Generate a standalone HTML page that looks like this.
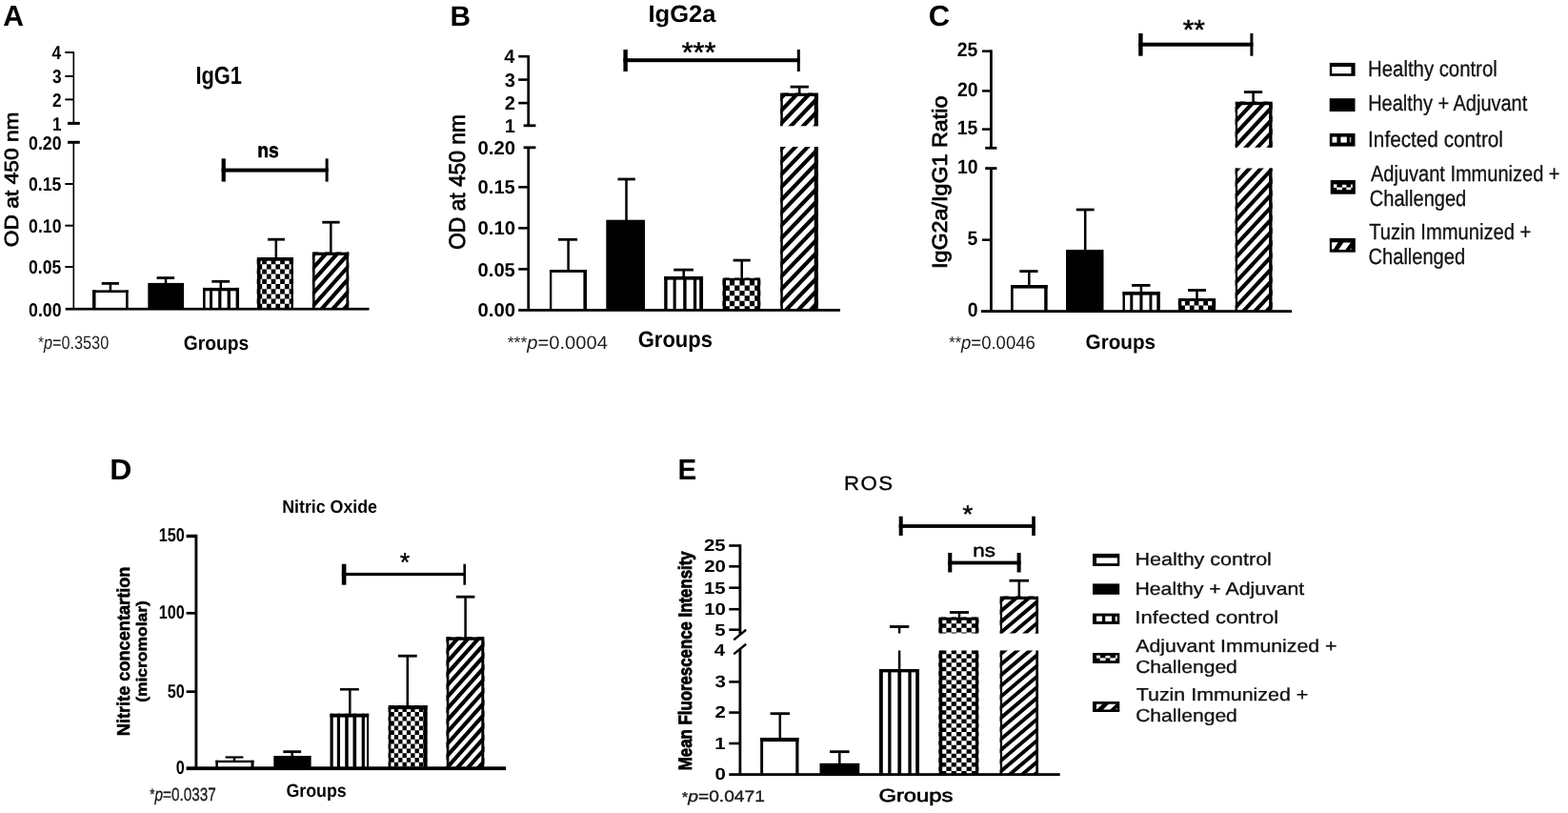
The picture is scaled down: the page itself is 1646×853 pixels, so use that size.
<!DOCTYPE html>
<html lang="en">
<head>
<meta charset="utf-8">
<title>Figure: antibody, nitric oxide and ROS responses</title>
<style>
html,body{margin:0;padding:0;background:#fff;}
body{width:1646px;height:853px;overflow:hidden;}
svg{display:block;}
svg text{font-family:"Liberation Sans",sans-serif;font-weight:bold;}
svg text.r{font-weight:normal;}
</style>
</head>
<body>
<svg width="1646" height="853" viewBox="0 0 1646 853" text-rendering="geometricPrecision">
<rect width="1646" height="853" fill="#fff"/>
<text transform="translate(3.35 26.7) scale(0.9918 1)" font-size="30.4">A</text>
<rect x="76.5" y="54.2" width="1.6" height="75.2"/>
<rect x="68.3" y="54" width="9" height="2"/>
<rect x="68.3" y="79" width="9" height="2"/>
<rect x="68.3" y="103.4" width="9" height="2"/>
<rect x="71" y="127.9" width="12.8" height="3"/>
<rect x="71" y="147.8" width="12.8" height="3"/>
<rect x="76.5" y="149.4" width="1.6" height="174.6"/>
<rect x="68.3" y="192" width="9" height="2"/>
<rect x="68.3" y="235.7" width="9" height="2"/>
<rect x="68.3" y="279" width="9" height="2"/>
<rect x="68.7" y="322.85" width="318.8" height="2.7"/>
<text transform="translate(54.54 62.3) scale(0.8600 1)" font-size="20">4</text>
<text transform="translate(55.06 87.3) scale(0.8600 1)" font-size="20">3</text>
<text transform="translate(55.1 111.7) scale(0.8600 1)" font-size="20">2</text>
<text transform="translate(54.93 136.7) scale(0.8600 1)" font-size="20">1</text>
<text transform="translate(30.09 156.9) scale(0.8847 1)" font-size="20">0.20</text>
<text transform="translate(30.1 200.3) scale(0.8788 1)" font-size="20">0.15</text>
<text transform="translate(30.09 244) scale(0.8847 1)" font-size="20">0.10</text>
<text transform="translate(30.1 287.3) scale(0.8788 1)" font-size="20">0.05</text>
<text transform="translate(30.09 331.6) scale(0.8847 1)" font-size="20">0.00</text>
<text transform="translate(205.42 88.1) scale(0.8342 1)" font-size="26.2">IgG1</text>
<text transform="translate(270.35 165) scale(0.8910 1)" font-size="21.6" stroke="#000" stroke-width="0.6">ns</text>
<rect x="232.6" y="176.6" width="112" height="4"/>
<rect x="232.6" y="166.4" width="4.2" height="24.2"/>
<rect x="341.6" y="166.4" width="3" height="24.2"/>
<clipPath id="c1"><rect x="96.9" y="304.2" width="37.9" height="20"/></clipPath>
<g clip-path="url(#c1)">
<rect x="96.9" y="304.2" width="3.6" height="20"/>
<rect x="132" y="304.2" width="2.8" height="20"/>
<rect x="96.9" y="304.2" width="37.9" height="2.8"/>
</g>
<rect x="155.3" y="296.9" width="37.7" height="27.3"/>
<clipPath id="c2"><rect x="212.9" y="301.7" width="38.2" height="22.5"/></clipPath>
<g clip-path="url(#c2)">
<rect x="220" y="301.7" width="3" height="22.5"/>
<rect x="229.2" y="301.7" width="3.2" height="22.5"/>
<rect x="238.6" y="301.7" width="3.3" height="22.5"/>
<rect x="212.9" y="301.7" width="2.7" height="22.5"/>
<rect x="247.6" y="301.7" width="3.5" height="22.5"/>
<rect x="212.9" y="301.7" width="38.2" height="3.6"/>
</g>
<clipPath id="c3"><rect x="269.7" y="269.9" width="38.2" height="54.3"/></clipPath>
<g clip-path="url(#c3)">
<path d="M265.68 261.6h4.74v5.2h-4.74zM275.16 261.6h4.74v5.2h-4.74zM284.64 261.6h4.74v5.2h-4.74zM294.12 261.6h4.74v5.2h-4.74zM303.6 261.6h4.74v5.2h-4.74zM260.94 266.8h4.74v5.2h-4.74zM270.42 266.8h4.74v5.2h-4.74zM279.9 266.8h4.74v5.2h-4.74zM289.38 266.8h4.74v5.2h-4.74zM298.86 266.8h4.74v5.2h-4.74zM308.34 266.8h4.74v5.2h-4.74zM265.68 272h4.74v5.2h-4.74zM275.16 272h4.74v5.2h-4.74zM284.64 272h4.74v5.2h-4.74zM294.12 272h4.74v5.2h-4.74zM303.6 272h4.74v5.2h-4.74zM260.94 277.2h4.74v5.2h-4.74zM270.42 277.2h4.74v5.2h-4.74zM279.9 277.2h4.74v5.2h-4.74zM289.38 277.2h4.74v5.2h-4.74zM298.86 277.2h4.74v5.2h-4.74zM308.34 277.2h4.74v5.2h-4.74zM265.68 282.4h4.74v5.2h-4.74zM275.16 282.4h4.74v5.2h-4.74zM284.64 282.4h4.74v5.2h-4.74zM294.12 282.4h4.74v5.2h-4.74zM303.6 282.4h4.74v5.2h-4.74zM260.94 287.6h4.74v5.2h-4.74zM270.42 287.6h4.74v5.2h-4.74zM279.9 287.6h4.74v5.2h-4.74zM289.38 287.6h4.74v5.2h-4.74zM298.86 287.6h4.74v5.2h-4.74zM308.34 287.6h4.74v5.2h-4.74zM265.68 292.8h4.74v5.2h-4.74zM275.16 292.8h4.74v5.2h-4.74zM284.64 292.8h4.74v5.2h-4.74zM294.12 292.8h4.74v5.2h-4.74zM303.6 292.8h4.74v5.2h-4.74zM260.94 298h4.74v5.2h-4.74zM270.42 298h4.74v5.2h-4.74zM279.9 298h4.74v5.2h-4.74zM289.38 298h4.74v5.2h-4.74zM298.86 298h4.74v5.2h-4.74zM308.34 298h4.74v5.2h-4.74zM265.68 303.2h4.74v5.2h-4.74zM275.16 303.2h4.74v5.2h-4.74zM284.64 303.2h4.74v5.2h-4.74zM294.12 303.2h4.74v5.2h-4.74zM303.6 303.2h4.74v5.2h-4.74zM260.94 308.4h4.74v5.2h-4.74zM270.42 308.4h4.74v5.2h-4.74zM279.9 308.4h4.74v5.2h-4.74zM289.38 308.4h4.74v5.2h-4.74zM298.86 308.4h4.74v5.2h-4.74zM308.34 308.4h4.74v5.2h-4.74zM265.68 313.6h4.74v5.2h-4.74zM275.16 313.6h4.74v5.2h-4.74zM284.64 313.6h4.74v5.2h-4.74zM294.12 313.6h4.74v5.2h-4.74zM303.6 313.6h4.74v5.2h-4.74zM260.94 318.8h4.74v5.2h-4.74zM270.42 318.8h4.74v5.2h-4.74zM279.9 318.8h4.74v5.2h-4.74zM289.38 318.8h4.74v5.2h-4.74zM298.86 318.8h4.74v5.2h-4.74zM308.34 318.8h4.74v5.2h-4.74zM265.68 324h4.74v5.2h-4.74zM275.16 324h4.74v5.2h-4.74zM284.64 324h4.74v5.2h-4.74zM294.12 324h4.74v5.2h-4.74zM303.6 324h4.74v5.2h-4.74zM260.94 329.2h4.74v5.2h-4.74zM270.42 329.2h4.74v5.2h-4.74zM279.9 329.2h4.74v5.2h-4.74zM289.38 329.2h4.74v5.2h-4.74zM298.86 329.2h4.74v5.2h-4.74zM308.34 329.2h4.74v5.2h-4.74z"/>
<rect x="269.7" y="269.9" width="3.8" height="54.3"/>
<rect x="305.5" y="269.9" width="2.4" height="54.3"/>
<rect x="269.7" y="269.9" width="38.2" height="3.8"/>
</g>
<clipPath id="c4"><rect x="327.8" y="264.4" width="38.5" height="59.8"/></clipPath>
<g clip-path="url(#c4)">
<path d="M323.8 247.18L370.3 195.1M323.8 260.38L370.3 208.3M323.8 273.58L370.3 221.5M323.8 286.78L370.3 234.7M323.8 299.98L370.3 247.9M323.8 313.18L370.3 261.1M323.8 326.38L370.3 274.3M323.8 339.58L370.3 287.5M323.8 352.78L370.3 300.7M323.8 365.98L370.3 313.9M323.8 379.18L370.3 327.1M323.8 392.38L370.3 340.3" fill="none" stroke="#000" stroke-width="4.13"/>
<rect x="327.8" y="264.4" width="2.8" height="59.8"/>
<rect x="363.4" y="264.4" width="2.9" height="59.8"/>
<rect x="327.8" y="264.4" width="38.5" height="3.5"/>
</g>
<rect x="114.65" y="297.4" width="2.5" height="7.6"/>
<rect x="106.7" y="296" width="18.2" height="2.8"/>
<rect x="172.75" y="291.6" width="2.5" height="6.4"/>
<rect x="164.6" y="290.2" width="18.5" height="2.8"/>
<rect x="230.55" y="295.3" width="2.5" height="7.7"/>
<rect x="222.3" y="293.9" width="18.8" height="2.8"/>
<rect x="288.55" y="251.2" width="2.5" height="19.8"/>
<rect x="281" y="249.8" width="17.9" height="2.8"/>
<rect x="346.05" y="233.2" width="2.5" height="32.8"/>
<rect x="338.3" y="231.8" width="18.3" height="2.8"/>
<text transform="translate(40.36 366) scale(0.8385 1)" font-size="19.4" class="r" fill="#1c1c1c"><tspan font-size="17.07" dy="-0.58">*</tspan><tspan font-style="italic" dy="0.58">p</tspan>=0.3530</text>
<text transform="translate(192.83 366.8) scale(0.9154 1)" font-size="21">Groups</text>
<text transform="translate(18.6 259.18) rotate(-90) scale(1.1163 1)" font-size="20.4" class="r" stroke="#000" stroke-width="0.7">OD at 450 nm</text>
<text transform="translate(472.59 26.5) scale(1.0080 1)" font-size="29.6">B</text>
<text transform="translate(680.48 23.2) scale(1.0215 1)" font-size="25">IgG2a</text>
<rect x="553.35" y="58" width="2.7" height="73.8"/>
<rect x="544.2" y="57.9" width="10.5" height="2.6"/>
<rect x="544.2" y="82.3" width="10.5" height="2.6"/>
<rect x="544.2" y="106.8" width="10.5" height="2.6"/>
<rect x="549.6" y="130.4" width="12.8" height="2.8"/>
<rect x="549.6" y="153.4" width="12.8" height="2.8"/>
<rect x="553.35" y="154.8" width="2.7" height="170.2"/>
<rect x="544.2" y="195" width="10.5" height="2.6"/>
<rect x="544.2" y="238" width="10.5" height="2.6"/>
<rect x="544.2" y="281.1" width="10.5" height="2.6"/>
<rect x="544.2" y="324" width="337.8" height="2.8"/>
<text transform="translate(529.2 66.3) scale(1.0000 1)" font-size="20">4</text>
<text transform="translate(529.8 90.7) scale(1.0000 1)" font-size="20">3</text>
<text transform="translate(529.85 115.2) scale(1.0000 1)" font-size="20">2</text>
<text transform="translate(529.65 138.9) scale(1.0000 1)" font-size="20">1</text>
<text transform="translate(501.59 161.9) scale(1.0134 1)" font-size="20">0.20</text>
<text transform="translate(501.59 203.4) scale(1.0067 1)" font-size="20">0.15</text>
<text transform="translate(501.59 246.4) scale(1.0134 1)" font-size="20">0.10</text>
<text transform="translate(501.59 289.5) scale(1.0067 1)" font-size="20">0.05</text>
<text transform="translate(501.59 332.1) scale(1.0134 1)" font-size="20">0.00</text>
<rect x="654.4" y="61.2" width="185.4" height="4"/>
<rect x="654.4" y="52" width="4.4" height="23"/>
<rect x="836.8" y="52" width="3" height="23"/>
<text transform="translate(715.66 65.03) scale(1.0341 1)" font-size="29.71" class="r" stroke="#000" stroke-width="0.5">***</text>
<clipPath id="c5"><rect x="576.8" y="283" width="39.2" height="42.4"/></clipPath>
<g clip-path="url(#c5)">
<rect x="576.8" y="283" width="2.5" height="42.4"/>
<rect x="612.4" y="283" width="3.6" height="42.4"/>
<rect x="576.8" y="283" width="39.2" height="2.9"/>
</g>
<rect x="636.3" y="230.7" width="40.7" height="94.7"/>
<clipPath id="c6"><rect x="697.1" y="289.8" width="41.1" height="35.6"/></clipPath>
<g clip-path="url(#c6)">
<rect x="706.6" y="289.8" width="3.1" height="35.6"/>
<rect x="717.2" y="289.8" width="3.4" height="35.6"/>
<rect x="727.9" y="289.8" width="3.3" height="35.6"/>
<rect x="697.1" y="289.8" width="3.5" height="35.6"/>
<rect x="734.2" y="289.8" width="4" height="35.6"/>
<rect x="697.1" y="289.8" width="41.1" height="3.8"/>
</g>
<clipPath id="c7"><rect x="758.5" y="291.6" width="39.8" height="33.8"/></clipPath>
<g clip-path="url(#c7)">
<path d="M755.4 283.1h5.25v5.45h-5.25zM765.9 283.1h5.25v5.45h-5.25zM776.4 283.1h5.25v5.45h-5.25zM786.9 283.1h5.25v5.45h-5.25zM797.4 283.1h5.25v5.45h-5.25zM750.15 288.55h5.25v5.45h-5.25zM760.65 288.55h5.25v5.45h-5.25zM771.15 288.55h5.25v5.45h-5.25zM781.65 288.55h5.25v5.45h-5.25zM792.15 288.55h5.25v5.45h-5.25zM802.65 288.55h5.25v5.45h-5.25zM755.4 294h5.25v5.45h-5.25zM765.9 294h5.25v5.45h-5.25zM776.4 294h5.25v5.45h-5.25zM786.9 294h5.25v5.45h-5.25zM797.4 294h5.25v5.45h-5.25zM750.15 299.45h5.25v5.45h-5.25zM760.65 299.45h5.25v5.45h-5.25zM771.15 299.45h5.25v5.45h-5.25zM781.65 299.45h5.25v5.45h-5.25zM792.15 299.45h5.25v5.45h-5.25zM802.65 299.45h5.25v5.45h-5.25zM755.4 304.9h5.25v5.45h-5.25zM765.9 304.9h5.25v5.45h-5.25zM776.4 304.9h5.25v5.45h-5.25zM786.9 304.9h5.25v5.45h-5.25zM797.4 304.9h5.25v5.45h-5.25zM750.15 310.35h5.25v5.45h-5.25zM760.65 310.35h5.25v5.45h-5.25zM771.15 310.35h5.25v5.45h-5.25zM781.65 310.35h5.25v5.45h-5.25zM792.15 310.35h5.25v5.45h-5.25zM802.65 310.35h5.25v5.45h-5.25zM755.4 315.8h5.25v5.45h-5.25zM765.9 315.8h5.25v5.45h-5.25zM776.4 315.8h5.25v5.45h-5.25zM786.9 315.8h5.25v5.45h-5.25zM797.4 315.8h5.25v5.45h-5.25zM750.15 321.25h5.25v5.45h-5.25zM760.65 321.25h5.25v5.45h-5.25zM771.15 321.25h5.25v5.45h-5.25zM781.65 321.25h5.25v5.45h-5.25zM792.15 321.25h5.25v5.45h-5.25zM802.65 321.25h5.25v5.45h-5.25zM755.4 326.7h5.25v5.45h-5.25zM765.9 326.7h5.25v5.45h-5.25zM776.4 326.7h5.25v5.45h-5.25zM786.9 326.7h5.25v5.45h-5.25zM797.4 326.7h5.25v5.45h-5.25z"/>
<rect x="758.5" y="291.6" width="3.5" height="33.8"/>
<rect x="795" y="291.6" width="3.3" height="33.8"/>
<rect x="758.5" y="291.6" width="39.8" height="2.6"/>
</g>
<clipPath id="c8"><rect x="819.2" y="97.4" width="39.7" height="34.9"/><rect x="819.2" y="154" width="39.7" height="171.4"/></clipPath>
<g clip-path="url(#c8)">
<path d="M815.2 80.89L862.9 31.28M815.2 94.29L862.9 44.68M815.2 107.69L862.9 58.08M815.2 121.09L862.9 71.48M815.2 134.49L862.9 84.88M815.2 147.89L862.9 98.28M815.2 161.29L862.9 111.68M815.2 174.69L862.9 125.08M815.2 188.09L862.9 138.48M815.2 201.49L862.9 151.88M815.2 214.89L862.9 165.28M815.2 228.29L862.9 178.68M815.2 241.69L862.9 192.08M815.2 255.09L862.9 205.48M815.2 268.49L862.9 218.88M815.2 281.89L862.9 232.28M815.2 295.29L862.9 245.68M815.2 308.69L862.9 259.08M815.2 322.09L862.9 272.48M815.2 335.49L862.9 285.88M815.2 348.89L862.9 299.28M815.2 362.29L862.9 312.68M815.2 375.69L862.9 326.08M815.2 389.09L862.9 339.48" fill="none" stroke="#000" stroke-width="4.16"/>
<rect x="819.2" y="97.4" width="2.6" height="228"/>
<rect x="854.7" y="97.4" width="4.2" height="228"/>
<rect x="819.2" y="97.4" width="39.7" height="3.6"/>
</g>
<rect x="595.35" y="251.3" width="2.5" height="32.7"/>
<rect x="586" y="249.9" width="20.1" height="2.8"/>
<rect x="656.25" y="188" width="2.5" height="44"/>
<rect x="648.5" y="186.6" width="18.3" height="2.8"/>
<rect x="716.45" y="283.1" width="2.5" height="7.9"/>
<rect x="707.2" y="281.7" width="20.7" height="2.8"/>
<rect x="777.45" y="273.1" width="2.5" height="19.9"/>
<rect x="769.6" y="271.7" width="18.1" height="2.8"/>
<rect x="837.95" y="91.1" width="2.5" height="6.9"/>
<rect x="829.6" y="89.7" width="19.3" height="2.8"/>
<text transform="translate(532.7 366) scale(1.0374 1)" font-size="19.4" class="r" fill="#1c1c1c"><tspan font-size="17.07" dy="-0.58">***</tspan><tspan font-style="italic" dy="0.58">p</tspan>=0.0004</text>
<text transform="translate(669.72 363.8) scale(0.9328 1)" font-size="23.6">Groups</text>
<text transform="translate(488 262.08) rotate(-90) scale(0.9596 1)" font-size="23.8" class="r" stroke="#000" stroke-width="0.7">OD at 450 nm</text>
<text transform="translate(974.86 26.7) scale(1.0195 1)" font-size="30.4">C</text>
<rect x="1039" y="52.4" width="2.8" height="102.9"/>
<rect x="1031" y="52.45" width="9.4" height="2.5"/>
<rect x="1031" y="94.15" width="9.4" height="2.5"/>
<rect x="1031" y="134.35" width="9.4" height="2.5"/>
<rect x="1034.2" y="153.9" width="12.2" height="2.8"/>
<rect x="1034.2" y="175.2" width="12.2" height="2.8"/>
<rect x="1039" y="176.6" width="2.8" height="149.9"/>
<rect x="1031" y="250.45" width="9.4" height="2.5"/>
<rect x="1030" y="325.2" width="326" height="2.8"/>
<text transform="translate(1004.76 59.2) scale(0.9300 1)" font-size="20.9">25</text>
<text transform="translate(1005 100.9) scale(0.9300 1)" font-size="20.9">20</text>
<text transform="translate(1004.76 141.1) scale(0.9300 1)" font-size="20.9">15</text>
<text transform="translate(1005 182.1) scale(0.9300 1)" font-size="20.9">10</text>
<text transform="translate(1015.55 257.2) scale(0.9300 1)" font-size="20.9">5</text>
<text transform="translate(1015.79 332) scale(0.9300 1)" font-size="20.9">0</text>
<rect x="1195.2" y="44.7" width="120.2" height="4"/>
<rect x="1195.2" y="35" width="4.4" height="23.7"/>
<rect x="1312.4" y="35" width="3" height="23.7"/>
<text transform="translate(1241.68 40.84) scale(1.0225 1)" font-size="29.14" class="r" stroke="#000" stroke-width="0.5">**</text>
<clipPath id="c9"><rect x="1061" y="299" width="38.8" height="27.6"/></clipPath>
<g clip-path="url(#c9)">
<rect x="1061" y="299" width="2.7" height="27.6"/>
<rect x="1096.2" y="299" width="3.6" height="27.6"/>
<rect x="1061" y="299" width="38.8" height="3.6"/>
</g>
<rect x="1119" y="262" width="39.5" height="64.6"/>
<clipPath id="c10"><rect x="1178.3" y="305.8" width="39.6" height="20.8"/></clipPath>
<g clip-path="url(#c10)">
<rect x="1186.3" y="305.8" width="3" height="20.8"/>
<rect x="1196.4" y="305.8" width="3.1" height="20.8"/>
<rect x="1206.5" y="305.8" width="2.9" height="20.8"/>
<rect x="1178.3" y="305.8" width="2.6" height="20.8"/>
<rect x="1214.3" y="305.8" width="3.6" height="20.8"/>
<rect x="1178.3" y="305.8" width="39.6" height="3.8"/>
</g>
<clipPath id="c11"><rect x="1236.8" y="313.1" width="39.4" height="13.5"/></clipPath>
<g clip-path="url(#c11)">
<path d="M1234.32 305.9h4.82v4.9h-4.82zM1243.96 305.9h4.82v4.9h-4.82zM1253.6 305.9h4.82v4.9h-4.82zM1263.24 305.9h4.82v4.9h-4.82zM1272.88 305.9h4.82v4.9h-4.82zM1229.5 310.8h4.82v4.9h-4.82zM1239.14 310.8h4.82v4.9h-4.82zM1248.78 310.8h4.82v4.9h-4.82zM1258.42 310.8h4.82v4.9h-4.82zM1268.06 310.8h4.82v4.9h-4.82zM1277.7 310.8h4.82v4.9h-4.82zM1234.32 315.7h4.82v4.9h-4.82zM1243.96 315.7h4.82v4.9h-4.82zM1253.6 315.7h4.82v4.9h-4.82zM1263.24 315.7h4.82v4.9h-4.82zM1272.88 315.7h4.82v4.9h-4.82zM1229.5 320.6h4.82v4.9h-4.82zM1239.14 320.6h4.82v4.9h-4.82zM1248.78 320.6h4.82v4.9h-4.82zM1258.42 320.6h4.82v4.9h-4.82zM1268.06 320.6h4.82v4.9h-4.82zM1277.7 320.6h4.82v4.9h-4.82zM1234.32 325.5h4.82v4.9h-4.82zM1243.96 325.5h4.82v4.9h-4.82zM1253.6 325.5h4.82v4.9h-4.82zM1263.24 325.5h4.82v4.9h-4.82zM1272.88 325.5h4.82v4.9h-4.82zM1229.5 330.4h4.82v4.9h-4.82zM1239.14 330.4h4.82v4.9h-4.82zM1248.78 330.4h4.82v4.9h-4.82zM1258.42 330.4h4.82v4.9h-4.82zM1268.06 330.4h4.82v4.9h-4.82zM1277.7 330.4h4.82v4.9h-4.82z"/>
<rect x="1236.8" y="313.1" width="3.5" height="13.5"/>
<rect x="1272.3" y="313.1" width="3.9" height="13.5"/>
<rect x="1236.8" y="313.1" width="39.4" height="2.8"/>
</g>
<clipPath id="c12"><rect x="1296.6" y="106.6" width="39.1" height="48.2"/><rect x="1296.6" y="176.5" width="39.1" height="150.1"/></clipPath>
<g clip-path="url(#c12)">
<path d="M1292.6 93.02L1339.7 42.62M1292.6 106.02L1339.7 55.62M1292.6 119.02L1339.7 68.62M1292.6 132.02L1339.7 81.62M1292.6 145.02L1339.7 94.62M1292.6 158.02L1339.7 107.62M1292.6 171.02L1339.7 120.62M1292.6 184.02L1339.7 133.62M1292.6 197.02L1339.7 146.62M1292.6 210.02L1339.7 159.62M1292.6 223.02L1339.7 172.62M1292.6 236.02L1339.7 185.62M1292.6 249.02L1339.7 198.62M1292.6 262.02L1339.7 211.62M1292.6 275.02L1339.7 224.62M1292.6 288.02L1339.7 237.62M1292.6 301.02L1339.7 250.62M1292.6 314.02L1339.7 263.62M1292.6 327.02L1339.7 276.62M1292.6 340.02L1339.7 289.62M1292.6 353.02L1339.7 302.62M1292.6 366.02L1339.7 315.62M1292.6 379.02L1339.7 328.62M1292.6 392.02L1339.7 341.62" fill="none" stroke="#000" stroke-width="4.1"/>
<rect x="1296.6" y="106.6" width="2.5" height="220"/>
<rect x="1332.1" y="106.6" width="3.6" height="220"/>
<rect x="1296.6" y="106.6" width="39.1" height="3.6"/>
</g>
<rect x="1079.05" y="284.6" width="2.5" height="16.4"/>
<rect x="1070.3" y="283.2" width="19.2" height="2.8"/>
<rect x="1137.95" y="220" width="2.5" height="43"/>
<rect x="1129.8" y="218.6" width="18.8" height="2.8"/>
<rect x="1196.65" y="299.4" width="2.5" height="8.6"/>
<rect x="1188" y="298" width="19.5" height="2.8"/>
<rect x="1255.25" y="304.5" width="2.5" height="10.5"/>
<rect x="1247" y="303.1" width="19" height="2.8"/>
<rect x="1314.35" y="96.6" width="2.5" height="11.4"/>
<rect x="1306" y="95.2" width="19.2" height="2.8"/>
<text transform="translate(996.32 366) scale(0.9551 1)" font-size="19.4" class="r" fill="#1c1c1c"><tspan font-size="17.07" dy="-0.58">**</tspan><tspan font-style="italic" dy="0.58">p</tspan>=0.0046</text>
<text transform="translate(1139.57 366.2) scale(0.9655 1)" font-size="21.4">Groups</text>
<text transform="translate(993.5 281.96) rotate(-90) scale(1.0594 1)" font-size="22" class="r" stroke="#000" stroke-width="0.75">IgG2a/IgG1 Ratio</text>
<rect x="1395.8" y="65.9" width="26.8" height="13.9"/>
<polygon points="1398.2,70 1418.4,70 1418.4,77.2 1398.2,77.2" fill="#fff"/>
<rect x="1395.7" y="103.2" width="26.8" height="13.8"/>
<rect x="1395.8" y="139.9" width="26.7" height="13.7"/>
<polygon points="1398.5,143.6 1403.4,143.6 1403.4,149.6 1398.5,149.6" fill="#fff"/>
<polygon points="1407.4,143.6 1413.8,143.6 1413.8,149.6 1407.4,149.6" fill="#fff"/>
<polygon points="1416.8,143.9 1418.3,143.9 1418.3,149.4 1416.8,149.4" fill="#aaa"/>
<rect x="1396.7" y="189" width="26.1" height="14.7"/>
<polygon points="1399.9,193.4 1403.4,193.4 1403.4,196.9 1399.9,196.9" fill="#fff"/>
<polygon points="1409,193.8 1413.4,193.8 1413.4,196.7 1409,196.7" fill="#fff"/>
<polygon points="1418,193.4 1419.8,193.4 1419.8,197 1418,197" fill="#fff"/>
<polygon points="1403.2,196.5 1409,196.5 1409,199.2 1403.2,199.2" fill="#fff"/>
<polygon points="1413.3,196.5 1418.3,196.5 1418.3,199.2 1413.3,199.2" fill="#fff"/>
<rect x="1395.8" y="249.9" width="27" height="14.8"/>
<polygon points="1398.1,254.3 1404.5,254.3 1400,261.6 1398.1,261.6" fill="#fff"/>
<polygon points="1410.3,254.6 1417.9,254.6 1412.4,262 1405.1,262" fill="#fff"/>
<polygon points="1417.4,260.4 1418.8,260.4 1418.8,261.9 1417.4,261.9" fill="#888"/>
<text transform="translate(1436.12 80) scale(0.8691 1)" font-size="23.4" class="r" fill="#111" stroke="#111" stroke-width="0.3">Healthy control</text>
<text transform="translate(1436.15 116.3) scale(0.8539 1)" font-size="23.4" class="r" fill="#111" stroke="#111" stroke-width="0.3">Healthy + Adjuvant</text>
<text transform="translate(1436.08 153.8) scale(0.8870 1)" font-size="23.4" class="r" fill="#111" stroke="#111" stroke-width="0.3">Infected control</text>
<text transform="translate(1438.95 190) scale(0.8556 1)" font-size="23.4" class="r" fill="#111" stroke="#111" stroke-width="0.3">Adjuvant Immunized +</text>
<text transform="translate(1437.8 215.5) scale(0.8573 1)" font-size="23.4" class="r" fill="#111" stroke="#111" stroke-width="0.3">Challenged</text>
<text transform="translate(1437.15 251.2) scale(0.8621 1)" font-size="23.4" class="r" fill="#111" stroke="#111" stroke-width="0.3">Tuzin Immunized +</text>
<text transform="translate(1436.6 276.7) scale(0.8573 1)" font-size="23.4" class="r" fill="#111" stroke="#111" stroke-width="0.3">Challenged</text>
<text transform="translate(115.24 502.9) scale(1.0526 1)" font-size="30.4">D</text>
<text transform="translate(296.2 537.6) scale(0.9357 1)" font-size="19">Nitric Oxide</text>
<rect x="204.45" y="560.8" width="2.9" height="245.2"/>
<rect x="195.6" y="560.8" width="10.3" height="3.4"/>
<rect x="195.6" y="641.95" width="10.3" height="2.7"/>
<rect x="195.6" y="724.35" width="10.3" height="2.7"/>
<rect x="195.6" y="804.3" width="335.4" height="3.8"/>
<text transform="translate(166.63 568.3) scale(0.8100 1)" font-size="20">150</text>
<text transform="translate(166.63 649.1) scale(0.8100 1)" font-size="20">100</text>
<text transform="translate(175.67 731.5) scale(0.8100 1)" font-size="20">50</text>
<text transform="translate(184.66 811.5) scale(0.8100 1)" font-size="20">0</text>
<rect x="358.8" y="600.9" width="130.2" height="3.2"/>
<rect x="358.8" y="591.7" width="4.6" height="22"/>
<rect x="486.4" y="591.7" width="2.6" height="22"/>
<text transform="translate(419.95 599.16) scale(0.9548 1)" font-size="27.14" class="r" stroke="#000" stroke-width="0.5">*</text>
<clipPath id="c13"><rect x="226.2" y="797.5" width="40.5" height="8.7"/></clipPath>
<g clip-path="url(#c13)">
<rect x="226.2" y="797.5" width="2.6" height="8.7"/>
<rect x="263.5" y="797.5" width="3.2" height="8.7"/>
<rect x="226.2" y="797.5" width="40.5" height="2.6"/>
</g>
<rect x="287.3" y="793" width="39.3" height="13.2"/>
<clipPath id="c14"><rect x="346.3" y="748.4" width="41.1" height="57.8"/></clipPath>
<g clip-path="url(#c14)">
<rect x="353.8" y="748.4" width="3.2" height="57.8"/>
<rect x="362.2" y="748.4" width="3.5" height="57.8"/>
<rect x="370.5" y="748.4" width="3.6" height="57.8"/>
<rect x="379.7" y="748.4" width="3.2" height="57.8"/>
<rect x="346.3" y="748.4" width="3.4" height="57.8"/>
<rect x="385" y="748.4" width="2.4" height="57.8"/>
<rect x="346.3" y="748.4" width="41.1" height="4.2"/>
</g>
<clipPath id="c15"><rect x="407.6" y="740.1" width="41.1" height="66.1"/></clipPath>
<g clip-path="url(#c15)">
<path d="M405.1 732.6h4.35v4.8h-4.35zM413.8 732.6h4.35v4.8h-4.35zM422.5 732.6h4.35v4.8h-4.35zM431.2 732.6h4.35v4.8h-4.35zM439.9 732.6h4.35v4.8h-4.35zM448.6 732.6h4.35v4.8h-4.35zM400.75 737.4h4.35v4.8h-4.35zM409.45 737.4h4.35v4.8h-4.35zM418.15 737.4h4.35v4.8h-4.35zM426.85 737.4h4.35v4.8h-4.35zM435.55 737.4h4.35v4.8h-4.35zM444.25 737.4h4.35v4.8h-4.35zM452.95 737.4h4.35v4.8h-4.35zM405.1 742.2h4.35v4.8h-4.35zM413.8 742.2h4.35v4.8h-4.35zM422.5 742.2h4.35v4.8h-4.35zM431.2 742.2h4.35v4.8h-4.35zM439.9 742.2h4.35v4.8h-4.35zM448.6 742.2h4.35v4.8h-4.35zM400.75 747h4.35v4.8h-4.35zM409.45 747h4.35v4.8h-4.35zM418.15 747h4.35v4.8h-4.35zM426.85 747h4.35v4.8h-4.35zM435.55 747h4.35v4.8h-4.35zM444.25 747h4.35v4.8h-4.35zM452.95 747h4.35v4.8h-4.35zM405.1 751.8h4.35v4.8h-4.35zM413.8 751.8h4.35v4.8h-4.35zM422.5 751.8h4.35v4.8h-4.35zM431.2 751.8h4.35v4.8h-4.35zM439.9 751.8h4.35v4.8h-4.35zM448.6 751.8h4.35v4.8h-4.35zM400.75 756.6h4.35v4.8h-4.35zM409.45 756.6h4.35v4.8h-4.35zM418.15 756.6h4.35v4.8h-4.35zM426.85 756.6h4.35v4.8h-4.35zM435.55 756.6h4.35v4.8h-4.35zM444.25 756.6h4.35v4.8h-4.35zM452.95 756.6h4.35v4.8h-4.35zM405.1 761.4h4.35v4.8h-4.35zM413.8 761.4h4.35v4.8h-4.35zM422.5 761.4h4.35v4.8h-4.35zM431.2 761.4h4.35v4.8h-4.35zM439.9 761.4h4.35v4.8h-4.35zM448.6 761.4h4.35v4.8h-4.35zM400.75 766.2h4.35v4.8h-4.35zM409.45 766.2h4.35v4.8h-4.35zM418.15 766.2h4.35v4.8h-4.35zM426.85 766.2h4.35v4.8h-4.35zM435.55 766.2h4.35v4.8h-4.35zM444.25 766.2h4.35v4.8h-4.35zM452.95 766.2h4.35v4.8h-4.35zM405.1 771h4.35v4.8h-4.35zM413.8 771h4.35v4.8h-4.35zM422.5 771h4.35v4.8h-4.35zM431.2 771h4.35v4.8h-4.35zM439.9 771h4.35v4.8h-4.35zM448.6 771h4.35v4.8h-4.35zM400.75 775.8h4.35v4.8h-4.35zM409.45 775.8h4.35v4.8h-4.35zM418.15 775.8h4.35v4.8h-4.35zM426.85 775.8h4.35v4.8h-4.35zM435.55 775.8h4.35v4.8h-4.35zM444.25 775.8h4.35v4.8h-4.35zM452.95 775.8h4.35v4.8h-4.35zM405.1 780.6h4.35v4.8h-4.35zM413.8 780.6h4.35v4.8h-4.35zM422.5 780.6h4.35v4.8h-4.35zM431.2 780.6h4.35v4.8h-4.35zM439.9 780.6h4.35v4.8h-4.35zM448.6 780.6h4.35v4.8h-4.35zM400.75 785.4h4.35v4.8h-4.35zM409.45 785.4h4.35v4.8h-4.35zM418.15 785.4h4.35v4.8h-4.35zM426.85 785.4h4.35v4.8h-4.35zM435.55 785.4h4.35v4.8h-4.35zM444.25 785.4h4.35v4.8h-4.35zM452.95 785.4h4.35v4.8h-4.35zM405.1 790.2h4.35v4.8h-4.35zM413.8 790.2h4.35v4.8h-4.35zM422.5 790.2h4.35v4.8h-4.35zM431.2 790.2h4.35v4.8h-4.35zM439.9 790.2h4.35v4.8h-4.35zM448.6 790.2h4.35v4.8h-4.35zM400.75 795h4.35v4.8h-4.35zM409.45 795h4.35v4.8h-4.35zM418.15 795h4.35v4.8h-4.35zM426.85 795h4.35v4.8h-4.35zM435.55 795h4.35v4.8h-4.35zM444.25 795h4.35v4.8h-4.35zM452.95 795h4.35v4.8h-4.35zM405.1 799.8h4.35v4.8h-4.35zM413.8 799.8h4.35v4.8h-4.35zM422.5 799.8h4.35v4.8h-4.35zM431.2 799.8h4.35v4.8h-4.35zM439.9 799.8h4.35v4.8h-4.35zM448.6 799.8h4.35v4.8h-4.35zM400.75 804.6h4.35v4.8h-4.35zM409.45 804.6h4.35v4.8h-4.35zM418.15 804.6h4.35v4.8h-4.35zM426.85 804.6h4.35v4.8h-4.35zM435.55 804.6h4.35v4.8h-4.35zM444.25 804.6h4.35v4.8h-4.35zM452.95 804.6h4.35v4.8h-4.35zM405.1 809.4h4.35v4.8h-4.35zM413.8 809.4h4.35v4.8h-4.35zM422.5 809.4h4.35v4.8h-4.35zM431.2 809.4h4.35v4.8h-4.35zM439.9 809.4h4.35v4.8h-4.35zM448.6 809.4h4.35v4.8h-4.35z"/>
<rect x="407.6" y="740.1" width="2.8" height="66.1"/>
<rect x="444.5" y="740.1" width="4.2" height="66.1"/>
<rect x="407.6" y="740.1" width="41.1" height="4"/>
</g>
<clipPath id="c16"><rect x="468.5" y="668.2" width="40" height="138"/></clipPath>
<g clip-path="url(#c16)">
<path d="M464.5 650.86L512.5 597.1M464.5 663.16L512.5 609.4M464.5 675.46L512.5 621.7M464.5 687.76L512.5 634M464.5 700.06L512.5 646.3M464.5 712.36L512.5 658.6M464.5 724.66L512.5 670.9M464.5 736.96L512.5 683.2M464.5 749.26L512.5 695.5M464.5 761.56L512.5 707.8M464.5 773.86L512.5 720.1M464.5 786.16L512.5 732.4M464.5 798.46L512.5 744.7M464.5 810.76L512.5 757M464.5 823.06L512.5 769.3M464.5 835.36L512.5 781.6M464.5 847.66L512.5 793.9M464.5 859.96L512.5 806.2M464.5 872.26L512.5 818.5" fill="none" stroke="#000" stroke-width="4.13"/>
<rect x="468.5" y="668.2" width="2.9" height="138"/>
<rect x="505.3" y="668.2" width="3.2" height="138"/>
<rect x="468.5" y="668.2" width="40" height="3.6"/>
</g>
<rect x="244.75" y="794.5" width="2.5" height="3.5"/>
<rect x="236.6" y="793.4" width="18.8" height="2.2"/>
<rect x="305.45" y="788.7" width="2.5" height="5.3"/>
<rect x="297.3" y="787.3" width="18.8" height="2.8"/>
<rect x="366.05" y="723.3" width="2.5" height="26.7"/>
<rect x="356.9" y="722.05" width="19.9" height="2.5"/>
<rect x="426.55" y="688.2" width="2.5" height="53.8"/>
<rect x="417.9" y="686.8" width="19.8" height="2.8"/>
<rect x="487.35" y="626.2" width="2.5" height="42.8"/>
<rect x="478.8" y="624.8" width="19.6" height="2.8"/>
<text transform="translate(157.37 840) scale(0.7961 1)" font-size="19.2" class="r" fill="#1c1c1c" stroke="#1c1c1c" stroke-width="0.35"><tspan font-size="16.9" dy="-0.58">*</tspan><tspan font-style="italic" dy="0.58">p</tspan>=0.0337</text>
<text transform="translate(300.39 835.8) scale(0.9182 1)" font-size="19.4">Groups</text>
<text transform="translate(136.3 772.23) rotate(-90) scale(0.9674 1)" font-size="18.8" stroke="#000" stroke-width="0.6">Nitrite concentartion</text>
<text transform="translate(154 736.87) rotate(-90) scale(1.1340 1)" font-size="15.4" stroke="#000" stroke-width="0.5">(micromolar)</text>
<text transform="translate(711.6 502.5) scale(0.9751 1)" font-size="30.4">E</text>
<text transform="translate(886.06 514.2) scale(1.0800 1)" font-size="20.6" class="r" stroke="#000" stroke-width="0.3" letter-spacing="1.26">ROS</text>
<rect x="775.5" y="571.2" width="2.8" height="94"/>
<rect x="765.3" y="571.2" width="11.6" height="2.6"/>
<rect x="765.3" y="593" width="11.6" height="2.6"/>
<rect x="765.3" y="615.4" width="11.6" height="2.6"/>
<rect x="765.3" y="637.9" width="11.6" height="2.6"/>
<rect x="765.3" y="659.4" width="11.6" height="2.6"/>
<rect x="775.5" y="681.4" width="2.8" height="131.2"/>
<rect x="765.3" y="714.1" width="11.6" height="2.6"/>
<rect x="765.3" y="746.3" width="11.6" height="2.6"/>
<rect x="765.3" y="778.7" width="11.6" height="2.6"/>
<rect x="765.3" y="811.2" width="347.4" height="2.8"/>
<line x1="770.2" y1="671.4" x2="783.2" y2="660.8" stroke="#000" stroke-width="2.4"/>
<line x1="770.2" y1="686.4" x2="783.2" y2="675.8" stroke="#000" stroke-width="2.4"/>
<text transform="translate(739 578.3) scale(1.1600 1)" font-size="17.6">25</text>
<text transform="translate(739.25 600.1) scale(1.1600 1)" font-size="17.6">20</text>
<text transform="translate(739 622.5) scale(1.1600 1)" font-size="17.6">15</text>
<text transform="translate(739.25 645) scale(1.1600 1)" font-size="17.6">10</text>
<text transform="translate(750.33 667) scale(1.1600 1)" font-size="17.6">5</text>
<text transform="translate(749.87 688.3) scale(1.1600 1)" font-size="17.6">4</text>
<text transform="translate(750.48 720.8) scale(1.1600 1)" font-size="17.6">3</text>
<text transform="translate(750.53 753.3) scale(1.1600 1)" font-size="17.6">2</text>
<text transform="translate(750.33 785.8) scale(1.1600 1)" font-size="17.6">1</text>
<text transform="translate(750.59 818.3) scale(1.1600 1)" font-size="17.6">0</text>
<rect x="943.7" y="550.1" width="143.1" height="3.8"/>
<rect x="943.7" y="541.7" width="4" height="20.3"/>
<rect x="1083.2" y="541.7" width="3.6" height="20.3"/>
<text transform="translate(1010.52 548.38) scale(1.0856 1)" font-size="25.43" class="r" stroke="#000" stroke-width="0.5">*</text>
<rect x="995.2" y="588.6" width="76.4" height="3.8"/>
<rect x="995.2" y="580" width="4.1" height="20.5"/>
<rect x="1067.6" y="580" width="4" height="20.5"/>
<text transform="translate(1021.19 583.7) scale(1.1770 1)" font-size="19" class="r" stroke="#000" stroke-width="0.5">ns</text>
<clipPath id="c17"><rect x="798.1" y="773.9" width="40.6" height="38.7"/></clipPath>
<g clip-path="url(#c17)">
<rect x="798.1" y="773.9" width="3" height="38.7"/>
<rect x="835.3" y="773.9" width="3.4" height="38.7"/>
<rect x="798.1" y="773.9" width="40.6" height="4.2"/>
</g>
<rect x="860.5" y="800.8" width="41.8" height="11.8"/>
<clipPath id="c18"><rect x="922.8" y="701.9" width="42.3" height="110.7"/></clipPath>
<g clip-path="url(#c18)">
<rect x="932.2" y="701.9" width="3.3" height="110.7"/>
<rect x="942.4" y="701.9" width="3.7" height="110.7"/>
<rect x="953.4" y="701.9" width="3.3" height="110.7"/>
<rect x="922.8" y="701.9" width="4" height="110.7"/>
<rect x="961.2" y="701.9" width="3.9" height="110.7"/>
<rect x="922.8" y="701.9" width="42.3" height="3.5"/>
</g>
<clipPath id="c19"><rect x="985.4" y="647.5" width="42" height="17"/><rect x="985.4" y="682.5" width="42" height="130.1"/></clipPath>
<g clip-path="url(#c19)">
<path d="M982.8 640.65h5.3v4.55h-5.3zM993.4 640.65h5.3v4.55h-5.3zM1004 640.65h5.3v4.55h-5.3zM1014.6 640.65h5.3v4.55h-5.3zM1025.2 640.65h5.3v4.55h-5.3zM977.5 645.2h5.3v4.55h-5.3zM988.1 645.2h5.3v4.55h-5.3zM998.7 645.2h5.3v4.55h-5.3zM1009.3 645.2h5.3v4.55h-5.3zM1019.9 645.2h5.3v4.55h-5.3zM1030.5 645.2h5.3v4.55h-5.3zM982.8 649.75h5.3v4.55h-5.3zM993.4 649.75h5.3v4.55h-5.3zM1004 649.75h5.3v4.55h-5.3zM1014.6 649.75h5.3v4.55h-5.3zM1025.2 649.75h5.3v4.55h-5.3zM977.5 654.3h5.3v4.55h-5.3zM988.1 654.3h5.3v4.55h-5.3zM998.7 654.3h5.3v4.55h-5.3zM1009.3 654.3h5.3v4.55h-5.3zM1019.9 654.3h5.3v4.55h-5.3zM1030.5 654.3h5.3v4.55h-5.3zM982.8 658.85h5.3v4.55h-5.3zM993.4 658.85h5.3v4.55h-5.3zM1004 658.85h5.3v4.55h-5.3zM1014.6 658.85h5.3v4.55h-5.3zM1025.2 658.85h5.3v4.55h-5.3zM977.5 663.4h5.3v4.55h-5.3zM988.1 663.4h5.3v4.55h-5.3zM998.7 663.4h5.3v4.55h-5.3zM1009.3 663.4h5.3v4.55h-5.3zM1019.9 663.4h5.3v4.55h-5.3zM1030.5 663.4h5.3v4.55h-5.3zM982.8 667.95h5.3v4.55h-5.3zM993.4 667.95h5.3v4.55h-5.3zM1004 667.95h5.3v4.55h-5.3zM1014.6 667.95h5.3v4.55h-5.3zM1025.2 667.95h5.3v4.55h-5.3zM977.5 672.5h5.3v4.55h-5.3zM988.1 672.5h5.3v4.55h-5.3zM998.7 672.5h5.3v4.55h-5.3zM1009.3 672.5h5.3v4.55h-5.3zM1019.9 672.5h5.3v4.55h-5.3zM1030.5 672.5h5.3v4.55h-5.3zM982.8 677.05h5.3v4.55h-5.3zM993.4 677.05h5.3v4.55h-5.3zM1004 677.05h5.3v4.55h-5.3zM1014.6 677.05h5.3v4.55h-5.3zM1025.2 677.05h5.3v4.55h-5.3zM977.5 681.6h5.3v4.55h-5.3zM988.1 681.6h5.3v4.55h-5.3zM998.7 681.6h5.3v4.55h-5.3zM1009.3 681.6h5.3v4.55h-5.3zM1019.9 681.6h5.3v4.55h-5.3zM1030.5 681.6h5.3v4.55h-5.3zM982.8 686.15h5.3v4.55h-5.3zM993.4 686.15h5.3v4.55h-5.3zM1004 686.15h5.3v4.55h-5.3zM1014.6 686.15h5.3v4.55h-5.3zM1025.2 686.15h5.3v4.55h-5.3zM977.5 690.7h5.3v4.55h-5.3zM988.1 690.7h5.3v4.55h-5.3zM998.7 690.7h5.3v4.55h-5.3zM1009.3 690.7h5.3v4.55h-5.3zM1019.9 690.7h5.3v4.55h-5.3zM1030.5 690.7h5.3v4.55h-5.3zM982.8 695.25h5.3v4.55h-5.3zM993.4 695.25h5.3v4.55h-5.3zM1004 695.25h5.3v4.55h-5.3zM1014.6 695.25h5.3v4.55h-5.3zM1025.2 695.25h5.3v4.55h-5.3zM977.5 699.8h5.3v4.55h-5.3zM988.1 699.8h5.3v4.55h-5.3zM998.7 699.8h5.3v4.55h-5.3zM1009.3 699.8h5.3v4.55h-5.3zM1019.9 699.8h5.3v4.55h-5.3zM1030.5 699.8h5.3v4.55h-5.3zM982.8 704.35h5.3v4.55h-5.3zM993.4 704.35h5.3v4.55h-5.3zM1004 704.35h5.3v4.55h-5.3zM1014.6 704.35h5.3v4.55h-5.3zM1025.2 704.35h5.3v4.55h-5.3zM977.5 708.9h5.3v4.55h-5.3zM988.1 708.9h5.3v4.55h-5.3zM998.7 708.9h5.3v4.55h-5.3zM1009.3 708.9h5.3v4.55h-5.3zM1019.9 708.9h5.3v4.55h-5.3zM1030.5 708.9h5.3v4.55h-5.3zM982.8 713.45h5.3v4.55h-5.3zM993.4 713.45h5.3v4.55h-5.3zM1004 713.45h5.3v4.55h-5.3zM1014.6 713.45h5.3v4.55h-5.3zM1025.2 713.45h5.3v4.55h-5.3zM977.5 718h5.3v4.55h-5.3zM988.1 718h5.3v4.55h-5.3zM998.7 718h5.3v4.55h-5.3zM1009.3 718h5.3v4.55h-5.3zM1019.9 718h5.3v4.55h-5.3zM1030.5 718h5.3v4.55h-5.3zM982.8 722.55h5.3v4.55h-5.3zM993.4 722.55h5.3v4.55h-5.3zM1004 722.55h5.3v4.55h-5.3zM1014.6 722.55h5.3v4.55h-5.3zM1025.2 722.55h5.3v4.55h-5.3zM977.5 727.1h5.3v4.55h-5.3zM988.1 727.1h5.3v4.55h-5.3zM998.7 727.1h5.3v4.55h-5.3zM1009.3 727.1h5.3v4.55h-5.3zM1019.9 727.1h5.3v4.55h-5.3zM1030.5 727.1h5.3v4.55h-5.3zM982.8 731.65h5.3v4.55h-5.3zM993.4 731.65h5.3v4.55h-5.3zM1004 731.65h5.3v4.55h-5.3zM1014.6 731.65h5.3v4.55h-5.3zM1025.2 731.65h5.3v4.55h-5.3zM977.5 736.2h5.3v4.55h-5.3zM988.1 736.2h5.3v4.55h-5.3zM998.7 736.2h5.3v4.55h-5.3zM1009.3 736.2h5.3v4.55h-5.3zM1019.9 736.2h5.3v4.55h-5.3zM1030.5 736.2h5.3v4.55h-5.3zM982.8 740.75h5.3v4.55h-5.3zM993.4 740.75h5.3v4.55h-5.3zM1004 740.75h5.3v4.55h-5.3zM1014.6 740.75h5.3v4.55h-5.3zM1025.2 740.75h5.3v4.55h-5.3zM977.5 745.3h5.3v4.55h-5.3zM988.1 745.3h5.3v4.55h-5.3zM998.7 745.3h5.3v4.55h-5.3zM1009.3 745.3h5.3v4.55h-5.3zM1019.9 745.3h5.3v4.55h-5.3zM1030.5 745.3h5.3v4.55h-5.3zM982.8 749.85h5.3v4.55h-5.3zM993.4 749.85h5.3v4.55h-5.3zM1004 749.85h5.3v4.55h-5.3zM1014.6 749.85h5.3v4.55h-5.3zM1025.2 749.85h5.3v4.55h-5.3zM977.5 754.4h5.3v4.55h-5.3zM988.1 754.4h5.3v4.55h-5.3zM998.7 754.4h5.3v4.55h-5.3zM1009.3 754.4h5.3v4.55h-5.3zM1019.9 754.4h5.3v4.55h-5.3zM1030.5 754.4h5.3v4.55h-5.3zM982.8 758.95h5.3v4.55h-5.3zM993.4 758.95h5.3v4.55h-5.3zM1004 758.95h5.3v4.55h-5.3zM1014.6 758.95h5.3v4.55h-5.3zM1025.2 758.95h5.3v4.55h-5.3zM977.5 763.5h5.3v4.55h-5.3zM988.1 763.5h5.3v4.55h-5.3zM998.7 763.5h5.3v4.55h-5.3zM1009.3 763.5h5.3v4.55h-5.3zM1019.9 763.5h5.3v4.55h-5.3zM1030.5 763.5h5.3v4.55h-5.3zM982.8 768.05h5.3v4.55h-5.3zM993.4 768.05h5.3v4.55h-5.3zM1004 768.05h5.3v4.55h-5.3zM1014.6 768.05h5.3v4.55h-5.3zM1025.2 768.05h5.3v4.55h-5.3zM977.5 772.6h5.3v4.55h-5.3zM988.1 772.6h5.3v4.55h-5.3zM998.7 772.6h5.3v4.55h-5.3zM1009.3 772.6h5.3v4.55h-5.3zM1019.9 772.6h5.3v4.55h-5.3zM1030.5 772.6h5.3v4.55h-5.3zM982.8 777.15h5.3v4.55h-5.3zM993.4 777.15h5.3v4.55h-5.3zM1004 777.15h5.3v4.55h-5.3zM1014.6 777.15h5.3v4.55h-5.3zM1025.2 777.15h5.3v4.55h-5.3zM977.5 781.7h5.3v4.55h-5.3zM988.1 781.7h5.3v4.55h-5.3zM998.7 781.7h5.3v4.55h-5.3zM1009.3 781.7h5.3v4.55h-5.3zM1019.9 781.7h5.3v4.55h-5.3zM1030.5 781.7h5.3v4.55h-5.3zM982.8 786.25h5.3v4.55h-5.3zM993.4 786.25h5.3v4.55h-5.3zM1004 786.25h5.3v4.55h-5.3zM1014.6 786.25h5.3v4.55h-5.3zM1025.2 786.25h5.3v4.55h-5.3zM977.5 790.8h5.3v4.55h-5.3zM988.1 790.8h5.3v4.55h-5.3zM998.7 790.8h5.3v4.55h-5.3zM1009.3 790.8h5.3v4.55h-5.3zM1019.9 790.8h5.3v4.55h-5.3zM1030.5 790.8h5.3v4.55h-5.3zM982.8 795.35h5.3v4.55h-5.3zM993.4 795.35h5.3v4.55h-5.3zM1004 795.35h5.3v4.55h-5.3zM1014.6 795.35h5.3v4.55h-5.3zM1025.2 795.35h5.3v4.55h-5.3zM977.5 799.9h5.3v4.55h-5.3zM988.1 799.9h5.3v4.55h-5.3zM998.7 799.9h5.3v4.55h-5.3zM1009.3 799.9h5.3v4.55h-5.3zM1019.9 799.9h5.3v4.55h-5.3zM1030.5 799.9h5.3v4.55h-5.3zM982.8 804.45h5.3v4.55h-5.3zM993.4 804.45h5.3v4.55h-5.3zM1004 804.45h5.3v4.55h-5.3zM1014.6 804.45h5.3v4.55h-5.3zM1025.2 804.45h5.3v4.55h-5.3zM977.5 809h5.3v4.55h-5.3zM988.1 809h5.3v4.55h-5.3zM998.7 809h5.3v4.55h-5.3zM1009.3 809h5.3v4.55h-5.3zM1019.9 809h5.3v4.55h-5.3zM1030.5 809h5.3v4.55h-5.3zM982.8 813.55h5.3v4.55h-5.3zM993.4 813.55h5.3v4.55h-5.3zM1004 813.55h5.3v4.55h-5.3zM1014.6 813.55h5.3v4.55h-5.3zM1025.2 813.55h5.3v4.55h-5.3z"/>
<rect x="985.4" y="647.5" width="3.8" height="165.1"/>
<rect x="1023.9" y="647.5" width="3.5" height="165.1"/>
<rect x="985.4" y="647.5" width="42" height="3.2"/>
</g>
<clipPath id="c20"><rect x="1049.6" y="625.6" width="40.5" height="38.9"/><rect x="1049.6" y="682.5" width="40.5" height="130.1"/></clipPath>
<g clip-path="url(#c20)">
<path d="M1045.6 611.94L1094.1 570.72M1045.6 623.14L1094.1 581.92M1045.6 634.34L1094.1 593.12M1045.6 645.54L1094.1 604.32M1045.6 656.74L1094.1 615.52M1045.6 667.94L1094.1 626.72M1045.6 679.14L1094.1 637.92M1045.6 690.34L1094.1 649.12M1045.6 701.54L1094.1 660.32M1045.6 712.74L1094.1 671.52M1045.6 723.94L1094.1 682.72M1045.6 735.14L1094.1 693.92M1045.6 746.34L1094.1 705.12M1045.6 757.54L1094.1 716.32M1045.6 768.74L1094.1 727.52M1045.6 779.94L1094.1 738.72M1045.6 791.14L1094.1 749.92M1045.6 802.34L1094.1 761.12M1045.6 813.54L1094.1 772.32M1045.6 824.74L1094.1 783.52M1045.6 835.94L1094.1 794.72M1045.6 847.14L1094.1 805.92M1045.6 858.34L1094.1 817.12M1045.6 869.54L1094.1 828.32" fill="none" stroke="#000" stroke-width="3.89"/>
<rect x="1049.6" y="625.6" width="2.5" height="187"/>
<rect x="1087.3" y="625.6" width="2.8" height="187"/>
<rect x="1049.6" y="625.6" width="40.5" height="3.4"/>
</g>
<rect x="817.55" y="748.7" width="2.5" height="26.3"/>
<rect x="808.6" y="747.3" width="20.4" height="2.8"/>
<rect x="880.05" y="788.7" width="2.5" height="13.3"/>
<rect x="871" y="787.3" width="20.6" height="2.8"/>
<rect x="942.85" y="657.5" width="2.5" height="7"/>
<rect x="942.85" y="682.5" width="2.5" height="21.5"/>
<rect x="934" y="656.1" width="20.3" height="2.8"/>
<rect x="1005.75" y="642.5" width="2.5" height="5.5"/>
<rect x="997" y="641.1" width="20" height="2.8"/>
<rect x="1068.55" y="609.2" width="2.5" height="17.8"/>
<rect x="1059.5" y="607.8" width="20.5" height="2.8"/>
<text transform="translate(715.71 841.4) scale(1.1698 1)" font-size="16.4" class="r" fill="#1c1c1c" stroke="#1c1c1c" stroke-width="0.4"><tspan font-size="14.43" dy="-0.49">*</tspan><tspan font-style="italic" dy="0.49">p</tspan>=0.0471</text>
<text transform="translate(922.41 841.2) scale(1.2520 1)" font-size="19" class="r" stroke="#000" stroke-width="0.6">Groups</text>
<text transform="translate(726.4 808.13) rotate(-90) scale(0.8578 1)" font-size="19.6" stroke="#000" stroke-width="0.8">Mean Fluorescence Intensity</text>
<rect x="1147" y="580.9" width="28.3" height="13"/>
<polygon points="1151,585.3 1172.9,585.3 1172.9,591.1 1151,591.1" fill="#fff"/>
<rect x="1147" y="612.4" width="28.2" height="11.4"/>
<rect x="1147" y="643.6" width="28.3" height="11.3"/>
<polygon points="1151,646.5 1156.9,646.5 1156.9,652 1151,652" fill="#fff"/>
<polygon points="1160.2,646.5 1167.1,646.5 1167.1,652 1160.2,652" fill="#fff"/>
<polygon points="1170.7,646.8 1172.8,646.8 1172.8,651.8 1170.7,651.8" fill="#ddd"/>
<rect x="1147" y="685" width="28.3" height="11"/>
<polygon points="1151,687.6 1155,687.6 1155,690.6 1151,690.6" fill="#fff"/>
<polygon points="1160.4,687.9 1165.4,687.9 1165.4,690.5 1160.4,690.5" fill="#fff"/>
<polygon points="1171,687.6 1172.9,687.6 1172.9,690.8 1171,690.8" fill="#fff"/>
<polygon points="1154.7,690.3 1160.6,690.3 1160.6,693.2 1154.7,693.2" fill="#fff"/>
<polygon points="1165.3,690.3 1171.2,690.3 1171.2,693.2 1165.3,693.2" fill="#fff"/>
<rect x="1147" y="736" width="28.3" height="11"/>
<polygon points="1151,738.8 1157.2,738.8 1151.8,743.9 1151,743.9" fill="#fff"/>
<polygon points="1163.8,738.8 1171.5,738.8 1165.3,744.6 1158,744.6" fill="#fff"/>
<polygon points="1171.5,743.1 1173,743.1 1173,744.6 1171.5,744.6" fill="#999"/>
<text transform="translate(1191.42 593) scale(1.1454 1)" font-size="18.8" class="r" fill="#111" stroke="#111" stroke-width="0.3">Healthy control</text>
<text transform="translate(1191.45 623.6) scale(1.1310 1)" font-size="18.8" class="r" fill="#111" stroke="#111" stroke-width="0.3">Healthy + Adjuvant</text>
<text transform="translate(1191.36 654.4) scale(1.1742 1)" font-size="18.8" class="r" fill="#111" stroke="#111" stroke-width="0.3">Infected control</text>
<text transform="translate(1192.35 684.2) scale(1.1328 1)" font-size="18.8" class="r" fill="#111" stroke="#111" stroke-width="0.3">Adjuvant Immunized +</text>
<text transform="translate(1192.14 706.2) scale(1.1230 1)" font-size="18.8" class="r" fill="#111" stroke="#111" stroke-width="0.3">Challenged</text>
<text transform="translate(1192.72 734.9) scale(1.1392 1)" font-size="18.8" class="r" fill="#111" stroke="#111" stroke-width="0.3">Tuzin Immunized +</text>
<text transform="translate(1192.14 756.9) scale(1.1230 1)" font-size="18.8" class="r" fill="#111" stroke="#111" stroke-width="0.3">Challenged</text>
</svg>
</body>
</html>
